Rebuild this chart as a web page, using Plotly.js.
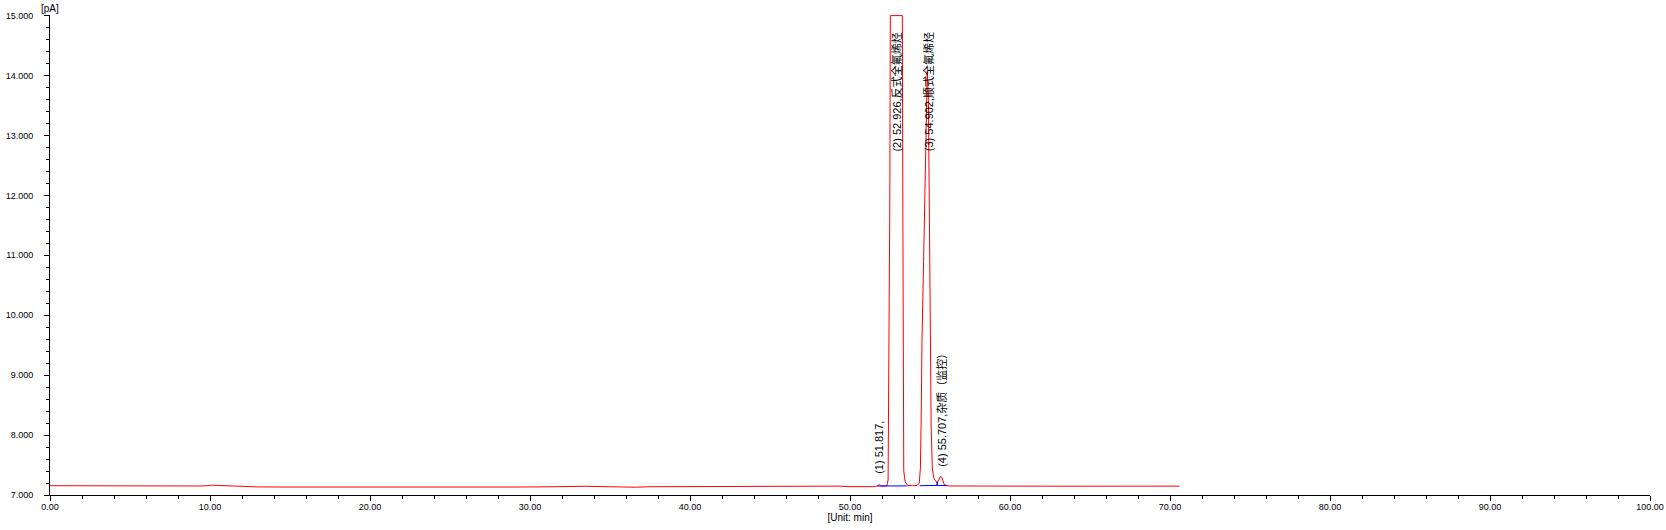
<!DOCTYPE html>
<html>
<head>
<meta charset="utf-8">
<script src="https://cdn.plot.ly/plotly-3.0.1.min.js"></script>
<style>
html,body{margin:0;padding:0;background:#fff;}
#chart{width:1666px;height:530px;}
</style>
</head>
<body>
<div id="chart"></div>
<script>
// Retention time (min)
const timeMin = [
 0, 1.5, 1.6, 2.5, 2.7, 3.0, 4.0, 4.3, 5.5, 6.5, 6.8, 7.5, 8.0, 9.5, 10.1, 10.4, 11.0, 11.5,
 12.5, 12.8, 13.0, 14.5, 16, 18, 20, 22, 23.5, 25, 27, 29, 30.5, 31.5, 32.5, 33.5, 34.5, 35.5,
 36.0, 36.6, 37.5, 39, 41, 43, 45, 46.5, 47.5, 48.3, 48.8, 49.3, 49.8, 50.3, 51.0, 51.6, 51.75,
 51.82, 51.9, 52.1, 52.3, 52.38, 52.41, 52.45, 52.49, 52.52, 53.27, 53.3, 53.33, 53.36, 53.45,
 53.6, 53.9, 54.2, 54.33, 54.4, 54.45, 54.5, 54.6, 54.68, 54.74, 54.83, 54.9, 54.94, 54.98,
 55.02, 55.07, 55.14, 55.25, 55.45, 55.55, 55.65, 55.72, 55.8, 55.9, 56.05, 56.2, 57, 58,
 59.5, 61, 61.3, 61.6, 63, 65, 67, 67.8, 68.3, 69.5, 70.6
];
// Detector signal (pA)
const signalPA = [
 7.155, 7.155, 7.145, 7.145, 7.152, 7.150, 7.148, 7.152, 7.145, 7.145, 7.150, 7.145, 7.145, 7.150, 7.163, 7.160, 7.150, 7.148,
 7.147, 7.138, 7.135, 7.133, 7.132, 7.132, 7.133, 7.132, 7.135, 7.133, 7.132, 7.133, 7.135, 7.138, 7.148, 7.145, 7.140, 7.138,
 7.128, 7.130, 7.138, 7.140, 7.140, 7.140, 7.142, 7.143, 7.142, 7.145, 7.155, 7.148, 7.140, 7.138, 7.140, 7.140, 7.160,
 7.175, 7.155, 7.148, 7.150, 7.250, 8.300, 10.00, 12.00, 15.00, 15.00, 12.00, 9.000, 7.400, 7.220,
 7.160, 7.155, 7.160, 7.200, 7.450, 8.300, 9.600, 10.90, 12.00, 13.30, 14.07, 13.60, 12.30, 11.00,
 9.500, 8.200, 7.450, 7.270, 7.200, 7.250, 7.310, 7.300, 7.230, 7.170, 7.160, 7.150, 7.150, 7.148,
 7.148, 7.147, 7.140, 7.147, 7.147, 7.147, 7.148, 7.155, 7.150, 7.148, 7.148
];
// Integration baseline
const baseTime = [51.7, 53.55, null, 54.35, 55.45, 55.45, 55.45, 56.04];
const basePA   = [7.15, 7.152, null, 7.155, 7.16, 7.22, 7.16, 7.158];

// Peaks
const peakNo   = [1, 2, 3, 4];
const peakRT   = [51.817, 52.926, 54.902, 55.707];
const peakName = ['', '反式全氟烯烃', '顺式全氟烯烃', '杂质（监控）'];

// Ticks
const xTickVals = [0, 10, 20, 30, 40, 50, 60, 70, 80, 90, 100];
const xTickText = ['0.00','10.00','20.00','30.00','40.00','50.00','60.00','70.00','80.00','90.00','100.00'];
const yTickVals = [7, 8, 9, 10, 11, 12, 13, 14, 15];
const yTickText = ['7.000','8.000','9.000','10.000','11.000','12.000','13.000','14.000','15.000'];

const labelBottom = [7.33, 12.72, 12.72, 7.45];

const FONT = 'Liberation Sans, Arial, Noto Sans CJK SC, sans-serif';

const traces = [
  {x: timeMin, y: signalPA, type: 'scatter', mode: 'lines',
   line: {color: '#ff0000', width: 1}, hoverinfo: 'skip'},
  {x: baseTime, y: basePA, type: 'scatter', mode: 'lines',
   line: {color: '#0000ff', width: 1}, connectgaps: false, hoverinfo: 'skip'}
];

const annotations = peakRT.map((rt, i) => ({
  x: rt, y: labelBottom[i], xref: 'x', yref: 'y',
  text: '(' + peakNo[i] + ') ' + rt.toFixed(3) + ',' + peakName[i],
  textangle: -90, showarrow: false, xanchor: 'center', yanchor: 'bottom',
  font: {family: FONT, size: 11, color: '#000'}, borderpad: 0
}));
annotations.push({
  x: 0, y: 1, xref: 'paper', yref: 'paper', text: '[pA]', showarrow: false,
  xanchor: 'center', yanchor: 'bottom', yshift: 0, borderpad: 0,
  font: {family: FONT, size: 10, color: '#000'}
});

const layout = {
  width: 1666, height: 530,
  margin: {l: 50, r: 16, t: 15, b: 35, pad: 0},
  paper_bgcolor: '#fff', plot_bgcolor: '#fff',
  showlegend: false,
  font: {family: FONT, color: '#000'},
  xaxis: {
    range: [0, 100], showgrid: false, zeroline: false,
    showline: true, linecolor: '#000', linewidth: 1,
    ticks: 'outside', ticklen: 5, tickwidth: 1, tickcolor: '#000',
    tickvals: xTickVals, ticktext: xTickText,
    tickfont: {family: FONT, size: 9, color: '#000'},
    ticklabelstandoff: -2,
    minor: {dtick: 2, ticks: 'outside', ticklen: 3, tickwidth: 1, tickcolor: '#000', showgrid: false},
    title: {text: '[Unit: min]', font: {family: FONT, size: 10, color: '#000'}, standoff: 2},
    automargin: false, fixedrange: true
  },
  yaxis: {
    range: [7, 15.01], showgrid: false, zeroline: false,
    showline: true, linecolor: '#000', linewidth: 1,
    ticks: 'outside', ticklen: 5, tickwidth: 1, tickcolor: '#000',
    tickvals: yTickVals, ticktext: yTickText,
    tickfont: {family: FONT, size: 9, color: '#000'},
    ticklabelstandoff: 9,
    minor: {dtick: 0.2, ticks: 'outside', ticklen: 3, tickwidth: 1, tickcolor: '#000', showgrid: false},
    automargin: false, fixedrange: true
  },
  annotations: annotations
};

Plotly.newPlot('chart', traces, layout, {displayModeBar: false, staticPlot: true});
</script>
</body>
</html>
